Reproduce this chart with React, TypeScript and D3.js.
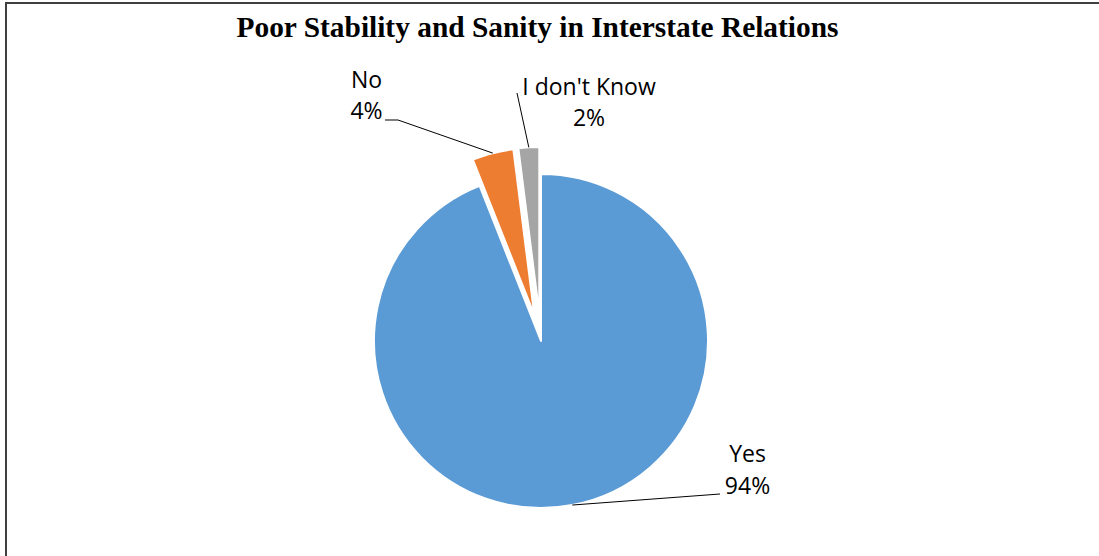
import React from "react";
import * as d3 from "d3";

const categories = ["Yes", "No", "I don't Know"];
const values = [94, 4, 2];
const percentLabels = ["94%", "4%", "2%"];
const colors = ["#5B9BD5", "#ED7D31", "#A5A5A5"];
const title = "Poor Stability and Sanity in Interstate Relations";

const W = 1099;
const H = 556;
const cx = 541;
const cy = 341;
const R = 167;
const explode = [0, 27, 27];
// label layout: text centre x, baselines, leader end points
const labelLayout = [
  { x: 747.5, y1: 462, y2: 494, path: [[720, 494]] },
  { x: 366.5, y1: 88, y2: 119, path: [[398, 120], [385, 120]] },
  { x: 589, y1: 95, y2: 126, path: [[517, 93]] },
];

export default function App() {
  const pie = d3.pie<number>().sort(null).value((d) => d).startAngle(0).endAngle(2 * Math.PI);
  const arcs = pie(values);
  const arc = d3.arc<d3.PieArcDatum<number>>().innerRadius(0).outerRadius(R);
  const font = "'Open Sans', sans-serif";

  return (
    <svg width={W} height={H} style={{ position: "absolute", left: 0, top: 0, background: "#fff" }}>
      <line x1={5} y1={3} x2={W} y2={3} stroke="#404040" strokeWidth={2} />
      <line x1={6} y1={2} x2={6} y2={H} stroke="#404040" strokeWidth={2} />
      <text x={537.5} y={37} textAnchor="middle" fontFamily="'Liberation Serif', 'Times New Roman', serif" fontWeight="bold" fontSize={30} textLength={602} lengthAdjust="spacingAndGlyphs" fill="#000">
        {title}
      </text>
      {arcs.map((a, i) => {
        const mid = (a.startAngle + a.endAngle) / 2;
        const ox = explode[i] * Math.sin(mid);
        const oy = -explode[i] * Math.cos(mid);
        return (
          <g key={categories[i]} transform={`translate(${cx + ox},${cy + oy})`}>
            <path d={arc(a) || ""} fill={colors[i]} stroke="#fff" strokeWidth={2} strokeLinejoin="round" />
          </g>
        );
      })}
      {arcs.map((a, i) => {
        const mid = (a.startAngle + a.endAngle) / 2;
        const sx = cx + (explode[i] + R) * Math.sin(mid);
        const sy = cy - (explode[i] + R) * Math.cos(mid);
        const L = labelLayout[i];
        const pts: [number, number][] = [[sx, sy], ...(L.path as [number, number][])];
        return (
          <g key={"lbl" + i}>
            <path d={d3.line()(pts) || ""} fill="none" stroke="#000" strokeWidth={1} />
            <text x={L.x} y={L.y1} textAnchor="middle" fontFamily={font} fontSize={23} fill="#000">
              {categories[i]}
            </text>
            <text x={L.x} y={L.y2} textAnchor="middle" fontFamily={font} fontSize={23} fill="#000">
              {percentLabels[i]}
            </text>
          </g>
        );
      })}
    </svg>
  );
}
